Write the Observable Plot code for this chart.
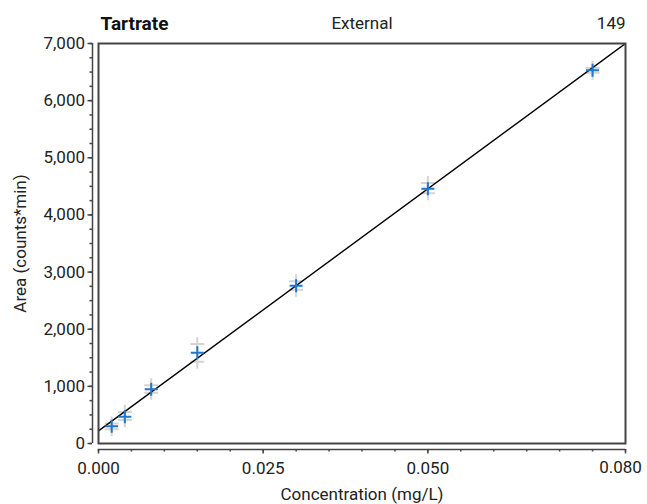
<!DOCTYPE html>
<html>
<head>
<meta charset="utf-8">
<script src="https://cdn.jsdelivr.net/npm/d3@7"></script>
<script src="https://cdn.jsdelivr.net/npm/@observablehq/plot@0.6"></script>
<style>
  html, body { margin: 0; padding: 0; background: #fff; }
  #chart svg { display: block; }
</style>
</head>
<body>
<div id="chart"></div>
<script>
// ---- data ----
const concentration = [0.002, 0.004, 0.008, 0.015, 0.030, 0.050, 0.075];
const area          = [300, 470, 950, 1590, 2760, 4460, 6530];
const replicateHigh = [350, 550, 1020, 1740, 2840, 4560, 6570];
const replicateLow  = [250, 410, 890, 1430, 2690, 4380, 6490];
const fitX = [0, 0.08];
const fitY = [220, 7000];
const xTickLabels = [0, 0.025, 0.05];
const xLastLabel = [0.08];
const xMinorTicks = d3.range(0, 0.0801, 0.005);
const yTickLabels = d3.range(0, 7001, 1000);
const yMinorTicks = d3.range(0, 7001, 250);
const headerLeft = "Tartrate", headerCenter = "External", headerRight = "149";
const xLabel = "Concentration (mg/L)", yLabel = "Area (counts*min)";

const points = concentration.map((c, i) => ({c, a: area[i]}));
const reps = concentration.flatMap((c, i) => [{c, a: replicateHigh[i]}, {c, a: replicateLow[i]}]);
const fit = fitX.map((x, i) => ({x, y: fitY[i]}));

const cross = {
  draw(ctx, size) {
    const h = Math.sqrt(size / Math.PI);
    ctx.moveTo(-h, 0); ctx.lineTo(h, 0);
    ctx.moveTo(0, -h); ctx.lineTo(0, h);
  }
};

const FONT = "Roboto, 'Liberation Sans', sans-serif";
const fmtX = d3.format(".3f");

const chart = Plot.plot({
  width: 647,
  height: 504,
  marginLeft: 98,
  marginRight: 22,
  marginTop: 43,
  marginBottom: 61,
  style: {fontFamily: FONT, fontSize: "17px", color: "#222", background: "#fff"},
  x: {domain: [0, 0.08]},
  y: {domain: [0, 7000]},
  marks: [
    Plot.ruleX([0], {dx: -6, stroke: "#444", strokeWidth: 1.5}),
    Plot.ruleY([0], {dy: 6, stroke: "#444", strokeWidth: 1.5}),
    Plot.axisY({ticks: yMinorTicks, tickSize: 2.5, dx: -6, tickFormat: () => "", stroke: "#444", strokeWidth: 1.5, label: null}),
    Plot.axisY({ticks: yTickLabels, tickSize: 4.5, dx: -6, tickPadding: 3, tickFormat: d3.format(","), stroke: "#444", strokeWidth: 1.5, label: null}),
    Plot.axisX({ticks: xMinorTicks, tickSize: 2.5, dy: 6, tickFormat: () => "", stroke: "#444", strokeWidth: 1.5, label: null}),
    Plot.axisX({ticks: xTickLabels.concat(xLastLabel), tickSize: 4.5, dy: 6, tickPadding: 8,
      tickFormat: d => xLastLabel.includes(d) ? "" : fmtX(d), stroke: "#444", strokeWidth: 1.5, label: null}),
    Plot.text(xLastLabel, {x: d => d, frameAnchor: "bottom", lineAnchor: "middle", dy: 24, dx: -5, text: d => fmtX(d), fill: "#222"}),
    Plot.dot(reps, {x: "c", y: "a", symbol: cross, r: 7, fill: "none", stroke: "#d4d4d4", strokeWidth: 2}),
    Plot.line(fit, {x: "x", y: "y", stroke: "#000", strokeWidth: 1.4, clip: true}),
    Plot.dot(points, {x: "c", y: "a", symbol: cross, r: 6.5, fill: "none", stroke: "#1f78cf", strokeWidth: 2}),
    Plot.frame({stroke: "#444", strokeWidth: 2}),
    Plot.text([headerLeft], {frameAnchor: "top-left", lineAnchor: "middle", dy: -20, dx: 2, textAnchor: "start", fontWeight: "bold", fontSize: 19, fill: "#111"}),
    Plot.text([headerCenter], {frameAnchor: "top", lineAnchor: "middle", dy: -20, textAnchor: "middle", fill: "#222"}),
    Plot.text([headerRight], {frameAnchor: "top-right", lineAnchor: "middle", dy: -20, textAnchor: "end", fill: "#222"}),
    Plot.text([xLabel], {frameAnchor: "bottom", lineAnchor: "middle", dy: 51, textAnchor: "middle", fill: "#222"}),
    Plot.text([yLabel], {frameAnchor: "left", dx: -78, rotate: -90, textAnchor: "middle", fill: "#222"})
  ]
});
document.getElementById("chart").appendChild(chart);
</script>
</body>
</html>
